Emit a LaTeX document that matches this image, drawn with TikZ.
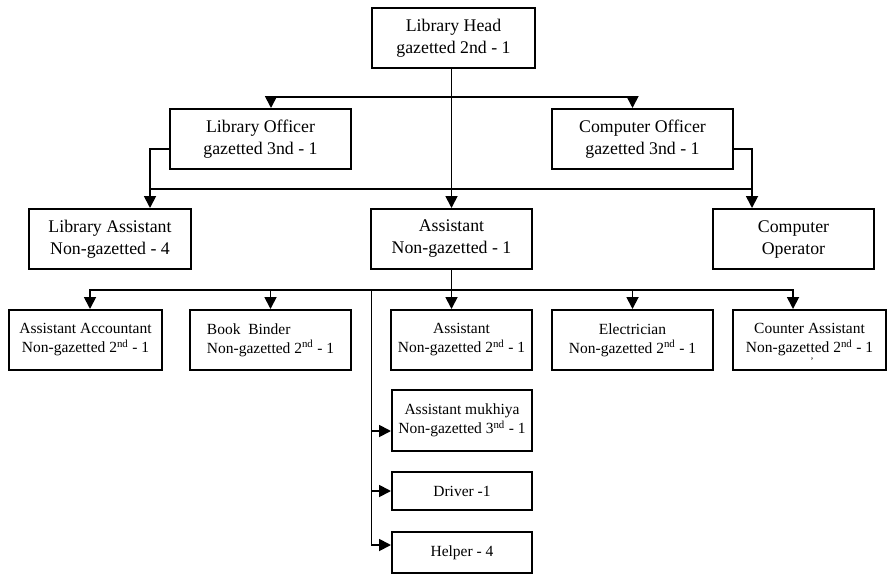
\documentclass[tikz,border=0pt]{standalone}
\usepackage{fontspec}
\setmainfont{Liberation Serif}
\usetikzlibrary{arrows.meta}
\begin{document}
\begin{tikzpicture}[x=1pt,y=-1pt,
  box/.style={draw, line width=2pt, inner sep=0pt, align=center},
  big/.style={box, font=\fontsize{17.8}{22}\selectfont},
  small/.style={box, font=\fontsize{15.5}{19}\selectfont},
  link/.style={line width=1.8pt},
  arr/.style={link, -{Triangle[length=12pt,width=12pt]}}]
\useasboundingbox (0,0) rectangle (890,578);

% upper levels
\node[big, minimum width=163pt, minimum height=60pt] (head) at (453.5,38) {Library Head\\gazetted 2nd - 1};
\node[big, minimum width=181pt, minimum height=60pt] (loff) at (260.5,139) {Library Officer\\gazetted 3nd - 1};
\node[big, minimum width=181pt, minimum height=60pt] (coff) at (642.5,139) {Computer Officer\\gazetted 3nd - 1};
\node[big, minimum width=162pt, minimum height=60pt] (lasst) at (110,239) {Library Assistant\\Non-gazetted - 4};
\node[big, minimum width=161pt, minimum height=60pt] (asst) at (451.5,239) {Assistant\\Non-gazetted - 1};
\node[big, minimum width=161pt, minimum height=60pt] (cop) at (793.5,239) {Computer\\Operator};

% lower level
\node[small, minimum width=153pt, minimum height=60pt] (acc) at (85.5,340) {Assistant Accountant\\Non-gazetted 2\textsuperscript{nd} - 1};
\node[small, minimum width=161pt, minimum height=60pt, align=left] (bind) at (270.5,340) {Book\ \ Binder\\Non-gazetted 2\textsuperscript{nd} - 1};
\node[small, minimum width=141pt, minimum height=60pt] (asst2) at (461.5,340) {Assistant\\Non-gazetted 2\textsuperscript{nd} - 1};
\node[small, minimum width=161pt, minimum height=60pt] (elec) at (632.5,340) {Electrician\\Non-gazetted 2\textsuperscript{nd} - 1};
\node[small, minimum width=153pt, minimum height=60pt] (cnt) at (809.5,340) {Counter Assistant\\Non-gazetted 2\textsuperscript{nd} - 1};
\node[inner sep=0pt, font=\fontsize{10}{10}\selectfont] (tick) at (812,361) {'};

% side column
\node[small, minimum width=140pt, minimum height=61pt] (mukh) at (462,420.5) {Assistant mukhiya\\Non-gazetted 3\textsuperscript{nd} - 1};
\node[small, minimum width=140pt, minimum height=38pt] (drv) at (462,491) {Driver -1};
\node[small, minimum width=140pt, minimum height=41pt] (help) at (462,552.5) {Helper - 4};

% junction points
\coordinate (tbar) at (451.5,97);
\coordinate (mleft) at (150,189);
\coordinate (mright) at (752,189);
\coordinate (bbar) at (451.5,290);
\coordinate (col) at (371.5,290);
\coordinate (mkin) at ([yshift=-10.5pt]mukh.west);
\coordinate (hpin) at ([yshift=7.5pt]help.west);

% head to its officers and the assistant
\draw[arr] (asst.north |- head.south) -- (asst.north);
\draw[arr] (tbar) -| ([xshift=10.5pt]loff.north);
\draw[arr] (tbar) -| ([xshift=-10pt]coff.north);

% officers to their staff
\draw[arr] ([yshift=-10pt]loff.west) -| ([xshift=40pt]lasst.north);
\draw[arr] ([yshift=-10pt]coff.east) -| ([xshift=-41.5pt]cop.north);
\draw[link] (mleft) -- (mright);

% assistant to the lower level
\draw[link] (asst.south) -- (bbar);
\draw[arr] (bbar) -| ([xshift=4.5pt]acc.north);
\draw[arr] (bbar) -| (bind.north);
\draw[arr] (bbar) -- (bbar |- asst2.north);
\draw[arr] (bbar) -| (elec.north);
\draw[arr] (bbar) -| ([xshift=-16.5pt]cnt.north);

% side column
\draw[arr] (col) |- (hpin);
\draw[arr] (col |- mkin) -- (mkin);
\draw[arr] (col |- drv.west) -- (drv.west);
\end{tikzpicture}
\end{document}
